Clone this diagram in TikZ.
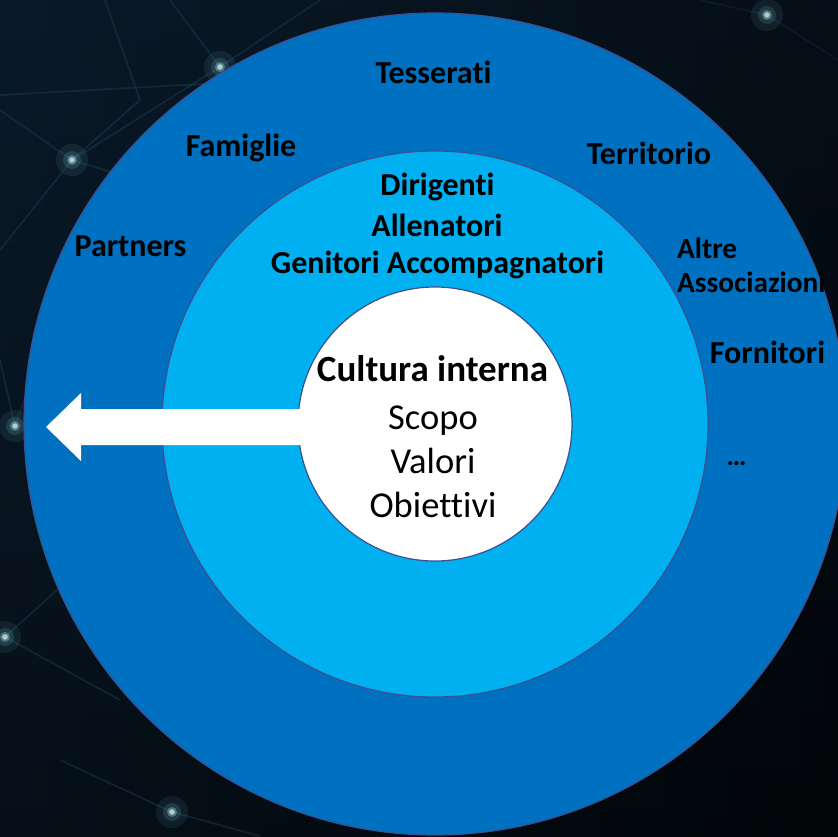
\documentclass[tikz,border=0pt]{standalone}
\usepackage{fontspec}
\setmainfont{Carlito}[Ligatures=NoCommon]
\definecolor{outerblue}{HTML}{0070C0}
\definecolor{innerblue}{HTML}{00B0F0}
\definecolor{ringline}{HTML}{3A5090}
\definecolor{bgnavy}{HTML}{0C2033}
\definecolor{bgdark}{HTML}{020508}
\definecolor{netline}{HTML}{1F4A63}
\definecolor{glow}{HTML}{8FE6F0}
\tikzset{
  ring/.style={circle, draw=ringline, line width=1.2pt, inner sep=0pt},
  lbl/.style={font=\bfseries\fontsize{32}{38}\selectfont, text=black, anchor=base, inner sep=0pt},
  smalllbl/.style={font=\bfseries\fontsize{29.3}{34}\selectfont, text=black, anchor=base west, inner sep=0pt, align=left},
  corebold/.style={font=\bfseries\fontsize{37}{44}\selectfont, text=black, anchor=base, inner sep=0pt},
  core/.style={font=\fontsize{36.5}{44}\selectfont, text=black, anchor=base, inner sep=0pt},
  net/.style={draw=netline, line width=1.8pt, opacity=0.35},
}
\newcommand{\glowdot}[2]{%
  \fill[glow, opacity=0.08] (#1,#2) circle[radius=16];
  \fill[glow, opacity=0.14] (#1,#2) circle[radius=9];
  \fill[glow, opacity=0.35] (#1,#2) circle[radius=5];
  \fill[white, opacity=0.6] (#1,#2) circle[radius=2.8];
}
\begin{document}
\begin{tikzpicture}[x=1pt, y=-1pt]
\useasboundingbox (0,0) rectangle (838,836);
\clip (0,0) rectangle (838,836);
% background
\shade[left color=bgnavy, right color=bgdark] (0,0) rectangle (838,836);
\shade[top color=bgnavy!60!bgdark, bottom color=bgdark, opacity=0.6] (0,0) rectangle (838,836);
% network lines
\draw[net] (72,160) -- (220,67);
\draw[net] (0,110) -- (72,160) -- (0,250);
\draw[net] (72,160) -- (250,215);
\draw[net] (0,95) -- (240,82);
\draw[net] (105,0) -- (140,100) -- (72,160);
\draw[net] (220,67) -- (170,0);
\draw[net] (220,67) -- (320,0);
\draw[net] (15,426) -- (0,360);
\draw[net] (15,426) -- (60,300);
\draw[net] (5,637) -- (90,560);
\draw[net] (5,637) -- (120,700);
\draw[net] (172,812) -- (60,760);
\draw[net] (172,812) -- (260,836);
\draw[net, opacity=0.2] (767,15) -- (838,60);
\draw[net, opacity=0.2] (767,15) -- (700,0);
\glowdot{72}{160}
\glowdot{220}{67}
\glowdot{15}{426}
\glowdot{5}{637}
\glowdot{172}{812}
\glowdot{767}{15}
% rings
\node[ring, fill=outerblue, minimum size=822pt] (outer) at (435,424) {};
\node[ring, fill=innerblue, minimum size=546pt] (inner) at (435,424) {};
\node[ring, fill=white, minimum size=274pt] (core) at (435,424) {};
% arrow
\coordinate (tip) at (46,427);
\coordinate (shaftend) at (335,427);
\fill[white] (shaftend |- 0,409) -- (81,409) -- (81,393) -- (tip) -- (81,461) -- (81,445) -- (shaftend |- 0,445) -- cycle;
% outer ring labels
\node[lbl] (tesserati) at (433.5,83) {Tesserati};
\node[lbl] (famiglie) at (241,156) {Famiglie};
\node[lbl] (territorio) at (649,164) {Territorio};
\node[lbl] (partners) at (130.5,256) {Partners};
\node[smalllbl] (altre) at (677,258) {Altre};
\node[smalllbl] (assoc) at (677,292) {Associazioni};
\node[lbl] (fornitori) at (767.5,363) {Fornitori};
\node[font=\bfseries\fontsize{28}{32}\selectfont, anchor=base, inner sep=0pt] (dots) at (736.5,465) {…};
% inner ring labels
\node[lbl] (dirigenti) at (437.5,195) {Dirigenti};
\node[lbl] (allenatori) at (437,236) {Allenatori};
\node[lbl] (genitori) at (437.5,273) {Genitori Accompagnatori};
% core labels
\node[corebold] (cultura) at (432.5,381) {Cultura interna};
\node[core] (scopo) at (433,429) {Scopo};
\node[core] (valori) at (433,473) {Valori};
\node[core] (obiettivi) at (433,517) {Obiettivi};
\end{tikzpicture}
\end{document}
